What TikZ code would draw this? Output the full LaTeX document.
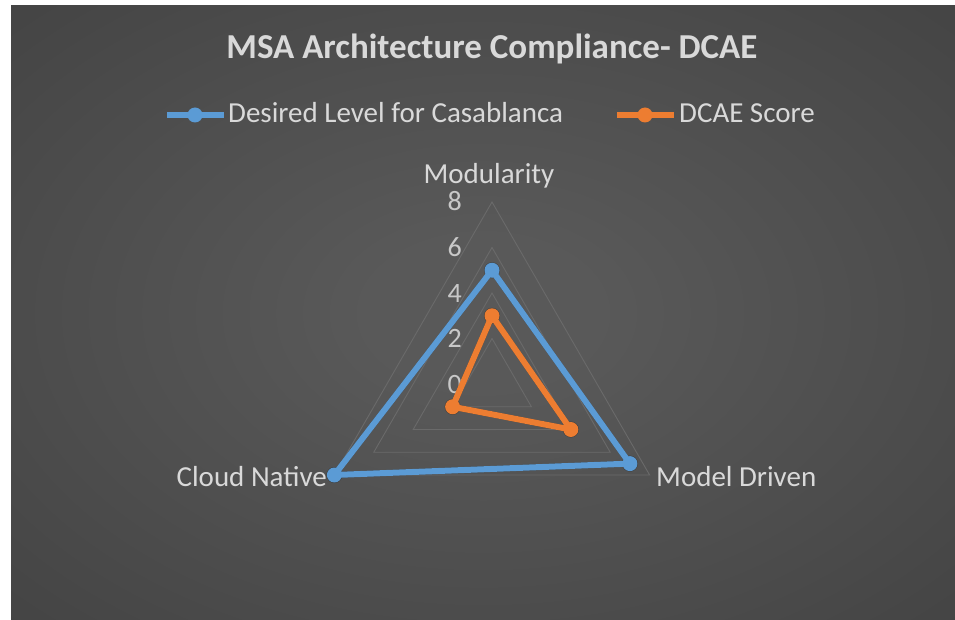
\documentclass[tikz,border=0pt]{standalone}
\usepackage{fontspec}
\setmainfont{Carlito}
\usetikzlibrary{calc}
\definecolor{bgin}{HTML}{595959}
\definecolor{bgmid}{HTML}{3A3A3A}
\definecolor{bgout}{HTML}{262626}
\definecolor{gridc}{HTML}{6A6A6A}
\definecolor{txt}{HTML}{D9D9D9}
\definecolor{numc}{HTML}{C8C8C8}
\definecolor{blueS}{HTML}{5B9BD5}
\definecolor{orangeS}{HTML}{ED7D31}
\pgfdeclareradialshading{bgshade}{\pgfpoint{0bp}{0bp}}{color(0bp)=(bgin); color(6bp)=(bgin); color(50bp)=(bgmid); color(71bp)=(bgout)}
\tikzset{
  gridline/.style={draw=gridc, line width=0.9},
  serline/.style={line width=6, line join=round, line cap=round},
  shadowline/.style={line width=6, line join=round, line cap=round, black, opacity=0.28},
  mark/.style={circle, inner sep=0pt, minimum size=15, fill=#1},
  markshadow/.style={circle, inner sep=0pt, minimum size=16, fill=black, opacity=0.28},
  lbl/.style={text=txt, inner sep=0pt, font=\fontsize{29}{34}\selectfont},
  numlbl/.style={text=numc, inner sep=0pt, anchor=base east, font=\fontsize{28}{32}\selectfont},
  ttl/.style={text=txt, inner sep=0pt, anchor=base, font=\bfseries\fontsize{35}{42}\selectfont}
}
\begin{document}
\begin{tikzpicture}[x=1pt,y=-1pt]
\useasboundingbox (0,0) rectangle (955,620);
\fill[white] (0,0) rectangle (955,620);
\shade[shading=bgshade] (11,6) rectangle (955,620);

% title
\node[ttl] (title) at (492,59) {MSA Architecture Compliance- DCAE};

% legend
\coordinate (lb1) at (167,115);
\coordinate (lb2) at (224,115);
\draw[serline, blueS, line cap=butt] (lb1) -- (lb2);
\node[mark=blueS] (lbm) at (195,115) {};
\node[lbl, anchor=base west] (lbt) at (228,123) {Desired Level for Casablanca};

\coordinate (lo1) at (617,115);
\coordinate (lo2) at (674,115);
\draw[serline, orangeS, line cap=butt] (lo1) -- (lo2);
\node[mark=orangeS] (lom) at (645,115) {};
\node[lbl, anchor=base west] (lot) at (679,123) {DCAE Score};

% radar grid
\coordinate (C) at (492,384);
\def\u{22.75}
\foreach \v in {2,4,6,8}{
  \draw[gridline] ($(C)+(-90:\v*\u)$) -- ($(C)+(30:\v*\u)$) -- ($(C)+(150:\v*\u)$) -- cycle;
}
% axis numbers
\foreach \v in {0,2,4,6,8}{
  \node[numlbl] (n\v) at ($(C)+(-30,-\v*\u+9)$) {\v};
}

% category labels
\node[lbl, anchor=base] (modl) at (489,184) {Modularity};
\node[lbl, anchor=base west] (mdl) at (656,486) {Model Driven};
\node[lbl, anchor=base east] (cnl) at (327,486) {Cloud Native};

% data points
\coordinate (b1) at ($(C)+(-90:5*\u)$);
\coordinate (b2) at ($(C)+(30:7*\u)$);
\coordinate (b3) at ($(C)+(150:8*\u)$);
\coordinate (o1) at ($(C)+(-90:3*\u)$);
\coordinate (o2) at ($(C)+(30:4*\u)$);
\coordinate (o3) at ($(C)+(150:2*\u)$);

% shadows
\begin{scope}[shift={(1.5,2)}]
\draw[shadowline] (b1) -- (b2) -- (b3) -- cycle;
\draw[shadowline] (o1) -- (o2) -- (o3) -- cycle;
\foreach \p in {b1,b2,b3,o1,o2,o3}{ \node[markshadow] at (\p) {}; }
\end{scope}

% blue series
\draw[serline, blueS] (b1) -- (b2) -- (b3) -- cycle;
\node[mark=blueS] (bm1) at (b1) {};
\node[mark=blueS] (bm2) at (b2) {};
\node[mark=blueS] (bm3) at (b3) {};

% orange series
\draw[serline, orangeS] (o1) -- (o2) -- (o3) -- cycle;
\node[mark=orangeS] (om1) at (o1) {};
\node[mark=orangeS] (om2) at (o2) {};
\node[mark=orangeS] (om3) at (o3) {};
\end{tikzpicture}
\end{document}
